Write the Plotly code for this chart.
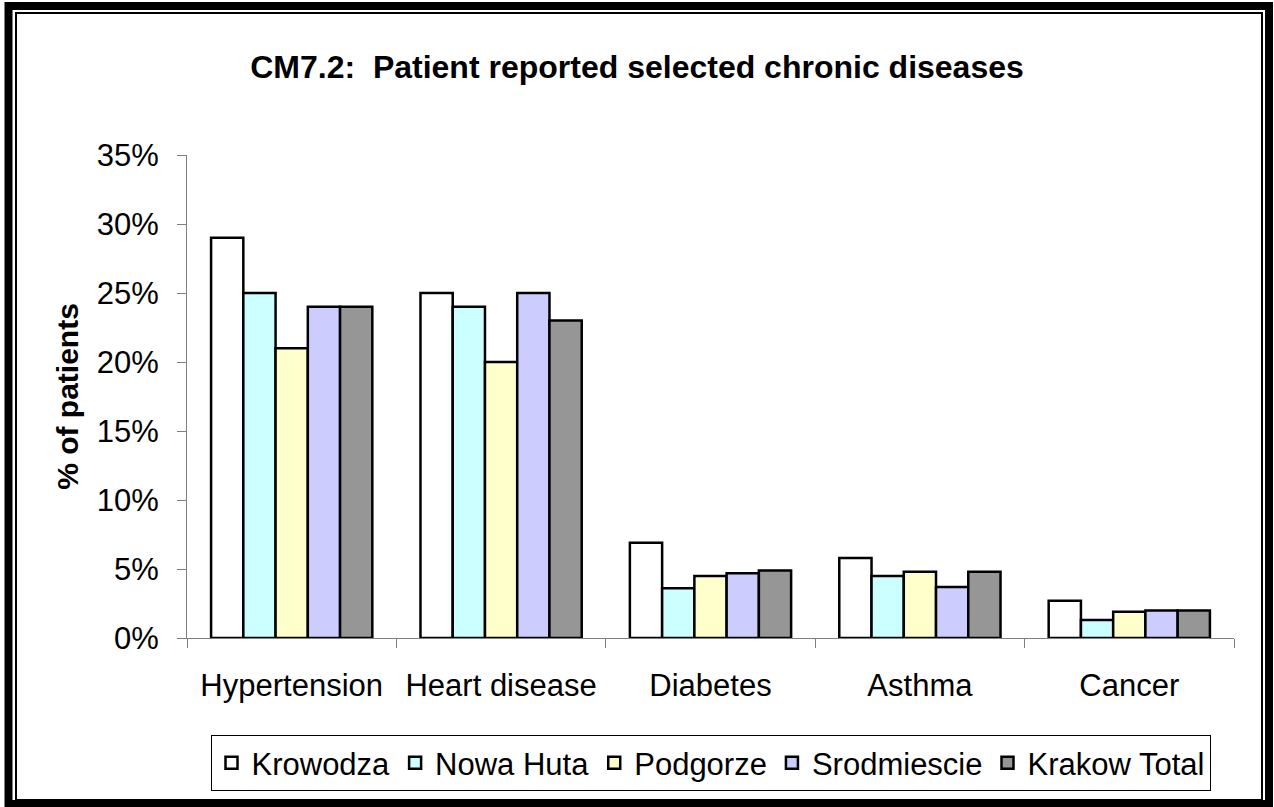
import plotly.graph_objects as go

categories = ["Hypertension", "Heart disease", "Diabetes", "Asthma", "Cancer"]
series_names = ["Krowodza", "Nowa Huta", "Podgorze", "Srodmiescie", "Krakow Total"]
krowodza = [0.29, 0.25, 0.069, 0.058, 0.027]
nowa_huta = [0.25, 0.24, 0.036, 0.045, 0.013]
podgorze = [0.21, 0.20, 0.045, 0.048, 0.019]
srodmiescie = [0.24, 0.25, 0.047, 0.037, 0.020]
krakow_total = [0.24, 0.23, 0.049, 0.048, 0.020]
colors = ["#FFFFFF", "#CCFFFF", "#FFFFCC", "#CCCCFF", "#969696"]

W, H = 1274, 807
L, R, T, B = 187, 40, 155, 169
pw, ph = W - L - R, H - T - B


def px_x(x):
    return (x - L) / pw


def px_y(y):
    return (H - B - y) / ph


fig = go.Figure()
for name, vals, col in zip(series_names,
                           [krowodza, nowa_huta, podgorze, srodmiescie, krakow_total],
                           colors):
    fig.add_trace(go.Bar(
        x=categories, y=vals, name=name,
        marker=dict(color=col, line=dict(color="black", width=2.5)),
    ))

font = "Arial, Liberation Sans, sans-serif"
fig.update_layout(
    width=W, height=H,
    margin=dict(l=L, r=R, t=T, b=B),
    paper_bgcolor="white", plot_bgcolor="white",
    barmode="group", bargap=0.23, bargroupgap=0,
    font=dict(family=font, size=31, color="black"),
    title=dict(text="<b>CM7.2:  Patient reported selected chronic diseases</b>",
               x=0.5, xanchor="center", y=1 - 67 / H, yanchor="middle",
               font=dict(size=32)),
    showlegend=True,
    legend=dict(orientation="h", x=0.5, xanchor="center",
                yref="container", y=1 - 735 / H, yanchor="top",
                bordercolor="black", borderwidth=1,
                font=dict(size=31), itemwidth=30, traceorder="normal"),
    xaxis=dict(showline=True, linecolor="#808080", linewidth=1,
               ticks="outside", tickson="boundaries", ticklen=9,
               tickcolor="#808080", ticklabelstandoff=20,
               showgrid=False, automargin=False),
    yaxis=dict(range=[0, 0.35], dtick=0.05, tickformat=".0%",
               showline=True, linecolor="#808080", linewidth=1,
               ticks="outside", ticklen=9, tickcolor="#808080",
               ticklabelstandoff=12, showgrid=False, zeroline=False,
               automargin=False,
               title=dict(text="<b>% of patients</b>", font=dict(size=30),
                          standoff=9)),
)

shapes = [
    dict(type="rect", xref="paper", yref="paper",
         x0=px_x(8.5), x1=px_x(1269), y0=px_y(6), y1=px_y(804),
         line=dict(color="black", width=8)),
    dict(type="rect", xref="paper", yref="paper",
         x0=px_x(16), x1=px_x(1262), y0=px_y(13), y1=px_y(800),
         line=dict(color="black", width=2)),
]
fig.update_layout(shapes=shapes)

fig.write_html("out.html", config={"displayModeBar": False},
               post_script="document.body.style.margin='0';")
